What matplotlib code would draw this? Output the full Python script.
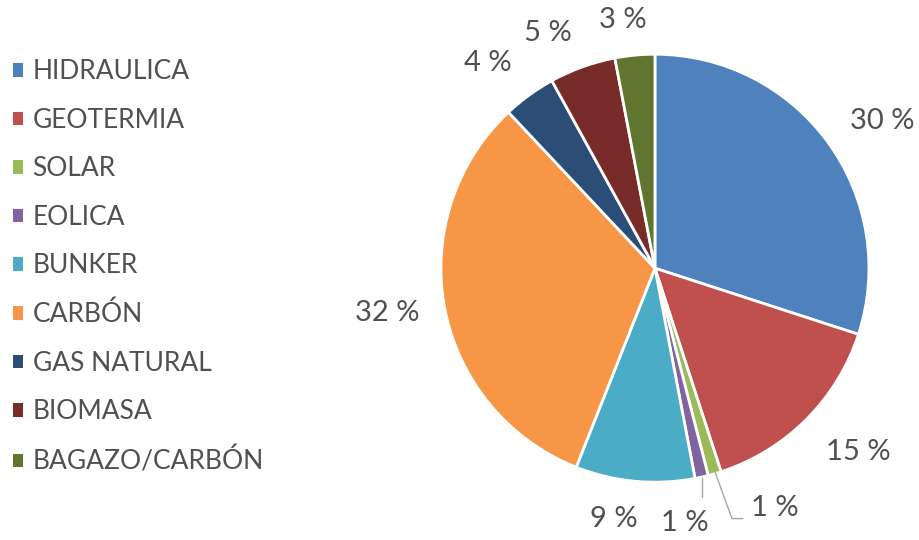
import matplotlib
matplotlib.use('Agg')
import matplotlib.pyplot as plt
from matplotlib.patches import Patch

# generation mix by source
sources = ['HIDRAULICA', 'GEOTERMIA', 'SOLAR', 'EOLICA', 'BUNKER',
           'CARBÓN', 'GAS NATURAL', 'BIOMASA', 'BAGAZO/CARBÓN']
shares = [30, 15, 1, 1, 9, 32, 4, 5, 3]
colors = ['#4F81BD', '#C0504D', '#9BBB59', '#8064A2', '#4BACC6',
          '#F79646', '#2C4D75', '#772C2A', '#5F7530']

# label anchor points (units of pie radius)
label_pos = [(1.06, 0.69), (0.95, -0.86), (0.56, -1.12), (0.14, -1.19),
             (-0.19, -1.17), (-1.25, -0.21), (-0.78, 0.96), (-0.50, 1.10),
             (-0.15, 1.16)]

text_color = '#505050'
plt.rcParams['font.family'] = ['Lato', 'DejaVu Sans']

fig = plt.figure(figsize=(9.2, 5.4), dpi=100)
ax = fig.add_axes([0.4793, 0.107, 0.4652, 0.7926])

wedges, _ = ax.pie(shares, colors=colors, startangle=90, counterclock=False,
                   radius=1.0,
                   wedgeprops=dict(edgecolor='white', linewidth=2))
ax.set_xlim(-1, 1)
ax.set_ylim(-1, 1)
ax.set_aspect('equal')
ax.axis('off')

for val, (x, y) in zip(shares, label_pos):
    ax.text(x, y, f'{val} %', ha='center', va='center', fontsize=21,
            color=text_color, clip_on=False)

# leader lines for the two thin slices
ax.plot([0.28, 0.36, 0.41], [-0.95, -1.17, -1.17], color='#A6A6A6', lw=1,
        clip_on=False)
ax.plot([0.22, 0.22], [-0.98, -1.07], color='#A6A6A6', lw=1, clip_on=False)

handles = [Patch(facecolor=c, edgecolor='none') for c in colors]
fig.legend(handles, sources, loc='upper left', bbox_to_anchor=(-0.012, 0.934),
           frameon=False, prop=dict(size=19), labelcolor=text_color,
           handlelength=0.4, handleheight=0.4, handletextpad=0.35,
           labelspacing=0.89)

fig.savefig('out.png', dpi=100)
